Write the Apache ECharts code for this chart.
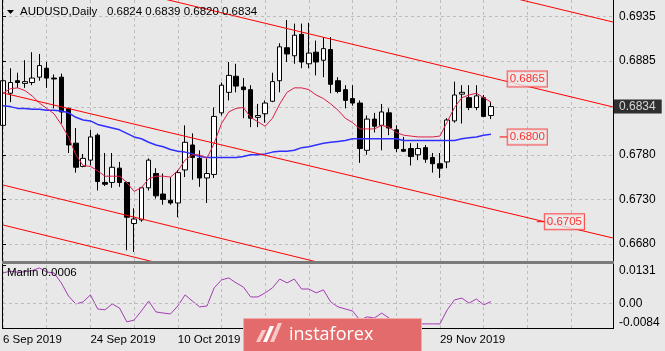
<!DOCTYPE html>
<html>
<head>
<meta charset="utf-8">
<script src="https://cdn.jsdelivr.net/npm/echarts@6/dist/echarts.min.js"></script>
<style>
  html, body { margin: 0; padding: 0; background: #e8e8e8; }
  #chart { width: 665px; height: 351px; }
</style>
</head>
<body>
<div id="chart"></div>
<script>
// AUDUSD daily, 6 Sep 2019 .. 10 Dec 2019
var symbol = 'AUDUSD,Daily'
var dates = [
  '6 Sep 2019', '9 Sep 2019', '10 Sep 2019', '11 Sep 2019', '12 Sep 2019', '13 Sep 2019',
  '16 Sep 2019', '17 Sep 2019', '18 Sep 2019', '19 Sep 2019', '20 Sep 2019',
  '23 Sep 2019', '24 Sep 2019', '25 Sep 2019', '26 Sep 2019', '27 Sep 2019', '30 Sep 2019',
  '1 Oct 2019', '2 Oct 2019', '3 Oct 2019', '4 Oct 2019',
  '7 Oct 2019', '8 Oct 2019', '9 Oct 2019', '10 Oct 2019', '11 Oct 2019',
  '14 Oct 2019', '15 Oct 2019', '16 Oct 2019', '17 Oct 2019', '18 Oct 2019',
  '21 Oct 2019', '22 Oct 2019', '23 Oct 2019', '24 Oct 2019', '25 Oct 2019',
  '28 Oct 2019', '29 Oct 2019', '30 Oct 2019', '31 Oct 2019', '1 Nov 2019',
  '4 Nov 2019', '5 Nov 2019', '6 Nov 2019', '7 Nov 2019', '8 Nov 2019',
  '11 Nov 2019', '12 Nov 2019', '13 Nov 2019', '14 Nov 2019', '15 Nov 2019',
  '18 Nov 2019', '19 Nov 2019', '20 Nov 2019', '21 Nov 2019', '22 Nov 2019',
  '25 Nov 2019', '26 Nov 2019', '27 Nov 2019', '28 Nov 2019', '29 Nov 2019',
  '2 Dec 2019', '3 Dec 2019', '4 Dec 2019', '5 Dec 2019', '6 Dec 2019',
  '9 Dec 2019', '10 Dec 2019'
]
var opens = [
  0.6813, 0.6849, 0.6863, 0.6860, 0.6861, 0.6867, 0.6877, 0.6866, 0.6867, 0.6832,
  0.6793, 0.6767, 0.6774, 0.6802, 0.6749, 0.6749, 0.6765, 0.6749, 0.6703, 0.6707,
  0.6743, 0.6759, 0.6736, 0.6729, 0.6726, 0.6763, 0.6791, 0.6776, 0.6754, 0.6758,
  0.6827, 0.6850, 0.6868, 0.6856, 0.6853, 0.6822, 0.6826, 0.6840, 0.6863, 0.6900,
  0.6891, 0.6915, 0.6882, 0.6895, 0.6886, 0.6898, 0.6863, 0.6853, 0.6843, 0.6838,
  0.6785, 0.6820, 0.6813, 0.6827, 0.6808, 0.6786, 0.6787, 0.6780, 0.6788, 0.6777,
  0.6770, 0.6772, 0.6818, 0.6848, 0.6844, 0.6833, 0.6844, 0.6824
]
var highs = [
  0.6866, 0.6877, 0.6872, 0.6886, 0.6895, 0.6893, 0.6884, 0.6870, 0.6871, 0.6833,
  0.6810, 0.6781, 0.6808, 0.6804, 0.6782, 0.6782, 0.6772, 0.6750, 0.6720, 0.6744,
  0.6776, 0.6765, 0.6759, 0.6755, 0.6763, 0.6813, 0.6804, 0.6785, 0.6776, 0.6833,
  0.6861, 0.6884, 0.6882, 0.6866, 0.6858, 0.6837, 0.6841, 0.6872, 0.6905, 0.6931,
  0.6927, 0.6927, 0.6928, 0.6908, 0.6912, 0.6912, 0.6867, 0.6858, 0.6858, 0.6841,
  0.6824, 0.6827, 0.6837, 0.6832, 0.6813, 0.6800, 0.6793, 0.6793, 0.6791, 0.6782,
  0.6782, 0.6821, 0.6862, 0.6858, 0.6858, 0.6858, 0.6847, 0.6839
]
var lows = [
  0.6808, 0.6839, 0.6855, 0.6855, 0.6858, 0.6863, 0.6855, 0.6832, 0.6815, 0.6782,
  0.6760, 0.6766, 0.6768, 0.6740, 0.6745, 0.6743, 0.6744, 0.6673, 0.6671, 0.6705,
  0.6740, 0.6731, 0.6724, 0.6724, 0.6710, 0.6755, 0.6752, 0.6744, 0.6726, 0.6754,
  0.6824, 0.6841, 0.6850, 0.6821, 0.6811, 0.6811, 0.6816, 0.6839, 0.6850, 0.6884,
  0.6882, 0.6877, 0.6877, 0.6869, 0.6867, 0.6849, 0.6849, 0.6832, 0.6835, 0.6771,
  0.6780, 0.6805, 0.6785, 0.6802, 0.6783, 0.6783, 0.6768, 0.6774, 0.6771, 0.6760,
  0.6754, 0.6765, 0.6816, 0.6815, 0.6830, 0.6830, 0.6822, 0.6820
]
var closes = [
  0.6863, 0.6861, 0.6861, 0.6862, 0.6866, 0.6880, 0.6866, 0.6865, 0.6828, 0.6791,
  0.6766, 0.6776, 0.6800, 0.6750, 0.6747, 0.6766, 0.6749, 0.6710, 0.6708, 0.6743,
  0.6774, 0.6734, 0.6730, 0.6726, 0.6760, 0.6794, 0.6777, 0.6754, 0.6759, 0.6823,
  0.6858, 0.6869, 0.6857, 0.6853, 0.6821, 0.6824, 0.6838, 0.6862, 0.6901, 0.6893,
  0.6914, 0.6884, 0.6894, 0.6884, 0.6899, 0.6859, 0.6851, 0.6841, 0.6838, 0.6787,
  0.6820, 0.6812, 0.6828, 0.6810, 0.6787, 0.6784, 0.6778, 0.6787, 0.6775, 0.6770,
  0.6765, 0.6819, 0.6847, 0.6850, 0.6833, 0.6846, 0.6823, 0.6834
]
// crimson fast MA and blue slow MA
var maFast = [
  0.6849, 0.6854, 0.6855, 0.6852, 0.6846, 0.6838, 0.6832, 0.6826, 0.6814, 0.6800,
  0.6780, 0.6768, 0.6767, 0.6762, 0.6756, 0.6756, 0.6756, 0.6749, 0.6739, 0.6743,
  0.6753, 0.6756, 0.6756, 0.6755, 0.6762, 0.6774, 0.6780, 0.6780, 0.6776, 0.6793,
  0.6815, 0.6828, 0.6832, 0.6833, 0.6822, 0.6817, 0.6812, 0.6821, 0.6837, 0.6850,
  0.6855, 0.6855, 0.6853, 0.6847, 0.6843, 0.6837, 0.6830, 0.6821, 0.6816, 0.6809,
  0.6809, 0.6809, 0.6813, 0.6811, 0.6805, 0.6802, 0.6801, 0.6800, 0.6800, 0.6800,
  0.6801, 0.6817, 0.6833, 0.6844, 0.6847, 0.6849, 0.6844, 0.6839
]
var maSlow = [
  0.6835, 0.6834, 0.6832, 0.6832, 0.6831, 0.6831, 0.6830, 0.6830, 0.6829, 0.6827,
  0.6822, 0.6819, 0.6818, 0.6814, 0.6812, 0.6810, 0.6808, 0.6804, 0.6800, 0.6798,
  0.6794, 0.6791, 0.6789, 0.6786, 0.6784, 0.6783, 0.6781, 0.6778, 0.6777, 0.6777,
  0.6777, 0.6777, 0.6777, 0.6778, 0.6780, 0.6780, 0.6781, 0.6783, 0.6784, 0.6784,
  0.6785, 0.6788, 0.6789, 0.6791, 0.6793, 0.6794, 0.6795, 0.6796, 0.6798, 0.6798,
  0.6798, 0.6798, 0.6798, 0.6798, 0.6798, 0.6796, 0.6796, 0.6796, 0.6796, 0.6796,
  0.6796, 0.6796, 0.6796, 0.6798, 0.6799, 0.6800, 0.6802, 0.6803
]
var marlin = [
  0.0104, 0.0110, 0.0106, 0.0108, 0.0112, 0.0121, 0.0107, 0.0104, 0.0070, 0.0025,
  -0.0002, 0.0005, 0.0029, -0.0019, -0.0022, -0.0002, -0.0016, -0.0063, -0.0057, -0.0026,
  0.0008, -0.0029, -0.0033, -0.0036, -0.0009, 0.0029, 0.0008, -0.0012, -0.0009, 0.0053,
  0.0080, 0.0087, 0.0070, 0.0056, 0.0022, 0.0022, 0.0036, 0.0053, 0.0083, 0.0070,
  0.0083, 0.0049, 0.0049, 0.0036, 0.0046, 0.0005, -0.0012, -0.0019, -0.0026, -0.0057,
  -0.0046, -0.0050, -0.0033, -0.0050, -0.0065, -0.0068, -0.0070, -0.0070, -0.0070, -0.0070,
  -0.0070, -0.0022, 0.0012, 0.0018, 0.0001, 0.0015, -0.0005, 0.0006
]
// trend channel lines: [bar index, price] at both ends
var channels = [
  [[0, 0.70934], [83.76, 0.69288]],
  [[0, 0.69981], [83.76, 0.68336]],
  [[0, 0.68493], [83.76, 0.66867]],
  [[0, 0.67461], [83.76, 0.65786]],
  [[0, 0.67013], [83.76, 0.65338]]
]
// price labels drawn on the chart: [bar index of box, price]
var levelMarks = [[69.3, 0.6865], [69.3, 0.6800], [74.4, 0.6705]]
var levelLeaders = [
  [[68.2, 0.6800], [69.3, 0.6800]],
  [[73.3, 0.6705], [74.4, 0.6705]]
]
var priceTicks = [0.6680, 0.6730, 0.6780, 0.6833, 0.6885, 0.6935]
var priceLabels = [0.6680, 0.6730, 0.6780, 0.6885, 0.6935]
var marlinTicks = [-0.0084, 0, 0.0131]
var dateLabelIdx = [0, 12, 24, 60]

var X_MAX = 83.76
var Y_MIN = 0.666095
var Y_MAX = 0.695349
var FONT = '"Liberation Sans", Arial, sans-serif'
var GRID_LINE = { color: '#bdbdbd', type: [3, 3], width: 1 }

var last = opens.length - 1
var candles = dates.map(function (d, i) {
  return [i, opens[i], closes[i], lows[i], highs[i]]
})
function indexed(arr) {
  return arr.map(function (v, i) { return [i, v] })
}

var chart = echarts.init(document.getElementById('chart'))

var series = [
  {
    type: 'candlestick',
    xAxisIndex: 0,
    yAxisIndex: 0,
    data: candles,
    barWidth: 5,
    itemStyle: {
      color: '#ffffff',
      color0: '#000000',
      borderColor: '#000000',
      borderColor0: '#000000',
      borderWidth: 1
    }
  },
  {
    type: 'line', xAxisIndex: 0, yAxisIndex: 0, data: indexed(maSlow),
    symbol: 'none', lineStyle: { color: '#2f2fff', width: 1.5 }
  },
  {
    type: 'line', xAxisIndex: 0, yAxisIndex: 0, data: indexed(maFast),
    symbol: 'none', lineStyle: { color: '#dc1e46', width: 1 }
  }
]

channels.forEach(function (seg) {
  series.push({
    type: 'line', xAxisIndex: 0, yAxisIndex: 0, data: seg,
    symbol: 'none', lineStyle: { color: '#ff0000', width: 1 }, z: 4
  })
})
levelLeaders.forEach(function (seg) {
  series.push({
    type: 'line', xAxisIndex: 0, yAxisIndex: 0, data: seg,
    symbol: 'none', lineStyle: { color: '#ff0000', width: 1 }, z: 4
  })
})

// boxed price labels
series.push({
  type: 'scatter', xAxisIndex: 0, yAxisIndex: 0, symbolSize: 0, clip: false, z: 6,
  data: levelMarks,
  label: {
    show: true, position: 'right', distance: 0,
    formatter: function (p) { return p.value[1].toFixed(4) },
    color: '#ff0000', fontFamily: FONT, fontSize: 11.5, lineHeight: 13,
    backgroundColor: '#ebebeb', borderColor: '#ff2a2a', borderWidth: 1,
    padding: [1, 2, 1, 2]
  }
})
// current price on the right scale
series.push({
  type: 'scatter', xAxisIndex: 0, yAxisIndex: 0, symbolSize: 0, clip: false, z: 6,
  data: [[X_MAX, closes[last]]],
  label: {
    show: true, position: 'right', distance: 0,
    formatter: function (p) { return p.value[1].toFixed(4) },
    color: '#ffffff', fontFamily: FONT, fontSize: 12, lineHeight: 12,
    backgroundColor: '#000000', padding: [1, 6, 1, 6]
  }
})
// Marlin oscillator
series.push({
  type: 'line', xAxisIndex: 1, yAxisIndex: 1, data: indexed(marlin),
  symbol: 'none', lineStyle: { color: '#a43cb4', width: 1 },
  markLine: {
    silent: true, symbol: 'none', label: { show: false },
    lineStyle: GRID_LINE,
    data: [{ yAxis: 0 }]
  }
})

var header = symbol + '   ' + [opens[last], highs[last], lows[last], closes[last]]
  .map(function (v) { return v.toFixed(4) }).join(' ')

var option = {
  backgroundColor: '#e8e8e8',
  animation: false,
  grid: [
    { left: 3, top: 0, width: 610, height: 261, containLabel: false, outerBoundsMode: 'none' },
    { left: 3, top: 265, width: 610, height: 63, containLabel: false, outerBoundsMode: 'none' }
  ],
  xAxis: [
    {
      gridIndex: 0, type: 'value', min: 0, max: X_MAX, interval: 6,
      axisLine: { show: false }, axisTick: { show: false }, axisLabel: { show: false },
      splitLine: { show: true, lineStyle: GRID_LINE }
    },
    {
      gridIndex: 1, type: 'value', min: 0, max: X_MAX, interval: 6,
      axisLine: { show: false }, axisTick: { show: false },
      axisLabel: {
        customValues: dateLabelIdx, align: 'left', margin: 6,
        color: '#000', fontFamily: FONT, fontSize: 11.5,
        formatter: function (v) { return dates[Math.round(v)] }
      },
      splitLine: { show: true, lineStyle: GRID_LINE }
    }
  ],
  yAxis: [
    {
      gridIndex: 0, type: 'value', position: 'right', min: Y_MIN, max: Y_MAX,
      axisLine: { show: false },
      axisTick: { show: true, length: 3, customValues: priceTicks, lineStyle: { color: '#000' } },
      axisLabel: {
        customValues: priceLabels, margin: 6, color: '#000', fontFamily: FONT, fontSize: 12,
        formatter: function (v) { return v.toFixed(4) }
      },
      splitLine: { show: true, lineStyle: GRID_LINE }
    },
    {
      gridIndex: 1, type: 'value', position: 'right', min: marlinTicks[0], max: marlinTicks[2],
      axisLine: { show: false },
      axisTick: { show: true, length: 3, customValues: marlinTicks, lineStyle: { color: '#000' } },
      axisLabel: {
        customValues: marlinTicks, margin: 6, color: '#000', fontFamily: FONT, fontSize: 12,
        formatter: function (v) {
          if (v === 0) return '0.00'
          return v > 0 ? '{t|' + v.toFixed(4) + '}' : '{b|' + v.toFixed(4) + '}'
        },
        rich: {
          t: { fontFamily: FONT, fontSize: 12, color: '#000', padding: [12, 0, 0, 0] },
          b: { fontFamily: FONT, fontSize: 12, color: '#000', padding: [0, 0, 10, 0] }
        }
      },
      splitLine: { show: false }
    }
  ],
  graphic: [
    // panel frame and separator
    { type: 'line', z: 50, shape: { x1: 2.5, y1: 0, x2: 2.5, y2: 329 }, style: { stroke: '#000', lineWidth: 1 } },
    { type: 'line', z: 50, shape: { x1: 613.5, y1: 0, x2: 613.5, y2: 329 }, style: { stroke: '#000', lineWidth: 1 } },
    { type: 'line', z: 50, shape: { x1: 2, y1: 328.5, x2: 614, y2: 328.5 }, style: { stroke: '#000', lineWidth: 1 } },
    { type: 'rect', z: 50, shape: { x: 2, y: 261, width: 612, height: 3 }, style: { fill: '#7a7a7a' } },
    // header
    { type: 'polygon', z: 60, shape: { points: [[7, 10], [14, 10], [10.5, 14]] }, style: { fill: '#000' } },
    {
      type: 'text', z: 60, x: 20, y: 12,
      style: { text: header, fill: '#000', font: '11.5px ' + FONT, verticalAlign: 'middle' }
    },
    {
      type: 'text', z: 60, x: 7, y: 273,
      style: { text: 'Marlin ' + marlin[last].toFixed(4), fill: '#000', font: '11.5px ' + FONT, verticalAlign: 'middle' }
    },
    // watermark banner
    {
      type: 'group', z: 100,
      children: [
        { type: 'rect', z: 100, shape: { x: 243.5, y: 318.5, width: 178, height: 34 }, style: { fill: '#e46b6b', stroke: '#f2aaaa', lineWidth: 1 } },
        { type: 'polygon', z: 101, shape: { points: [[256, 342], [262, 330], [266, 330], [260, 342]] }, style: { fill: '#f7c9c9' } },
        { type: 'polygon', z: 101, shape: { points: [[263, 342], [270, 326], [274, 326], [267, 342]] }, style: { fill: '#ffffff' } },
        { type: 'polygon', z: 101, shape: { points: [[270, 342], [278, 323], [282, 323], [274, 342]] }, style: { fill: '#f7c9c9' } },
        {
          type: 'text', z: 101, x: 289, y: 335,
          style: { text: 'instaforex', fill: '#ffffff', font: '18px "Open Sans", sans-serif', verticalAlign: 'middle' }
        }
      ]
    }
  ],
  series: series
}

chart.setOption(option)
</script>
</body>
</html>
